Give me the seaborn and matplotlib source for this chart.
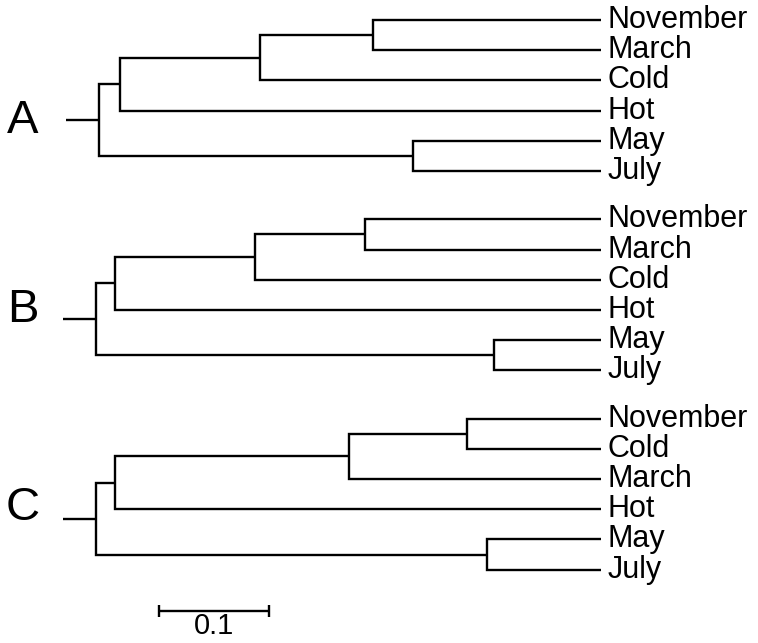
import numpy as np
import pandas as pd
import matplotlib
matplotlib.use('Agg')
import matplotlib.pyplot as plt
import seaborn as sns

sns.set_style("white")
plt.rcParams['font.family'] = ['Liberation Sans', 'DejaVu Sans']
plt.rcParams['text.color'] = 'black'

# --- data ---
panel_names = ['A', 'B', 'C']
leaves_A = ['November', 'March', 'Cold', 'Hot', 'May', 'July']
leaves_B = ['November', 'March', 'Cold', 'Hot', 'May', 'July']
leaves_C = ['November', 'Cold', 'March', 'Hot', 'May', 'July']
# merge heights (distance from tips):
# first pair, + 3rd leaf, + 4th leaf, last pair, root
heights_A = [0.207, 0.310, 0.437, 0.171, 0.456]
heights_B = [0.215, 0.315, 0.442, 0.097, 0.459]
heights_C = [0.122, 0.229, 0.442, 0.104, 0.459]
scale_len = 0.1

panels = list(zip(panel_names, [leaves_A, leaves_B, leaves_C],
                  [heights_A, heights_B, heights_C]))

ROW_GAP = 6.6      # rows between the first leaf of each panel
STUB = 0.03        # root stub length
LETTER_DY = [0.43, 0.1, 0.03]   # baseline nudge of panel letters


def make_tree(leaves, h, offset):
    lf = [(0.0, offset + i, name) for i, name in enumerate(leaves)]
    n1 = (h[0], [lf[0], lf[1]])
    n2 = (h[1], [n1, lf[2]])
    n3 = (h[2], [n2, lf[3]])
    n4 = (h[3], [lf[4], lf[5]])
    return (h[4], [n3, n4])


segs = []


def layout(node):
    """return (x, y) of node, appending elbow segments for children"""
    if len(node) == 3:
        return -node[0], node[1]
    h, kids = node
    pos = [layout(k) for k in kids]
    y = np.mean([p[1] for p in pos])
    for cx, cy in pos:
        sid = len(segs)
        segs.extend([(sid, -h, y), (sid, -h, cy), (sid, cx, cy)])
    return -h, y


fig = plt.figure(figsize=(7.58, 6.43), dpi=100)
ax = fig.add_axes([0, 0, 1, 1])

labels = []
roots = []
for p, (name, leaves, hts) in enumerate(panels):
    off = p * ROW_GAP
    rx, ry = layout(make_tree(leaves, hts, off))
    sid = len(segs)
    segs.extend([(sid, rx - STUB, ry), (sid, rx, ry)])
    roots.append((name, ry + LETTER_DY[p]))
    for i, lab in enumerate(leaves):
        labels.append((lab, off + i))

# scale bar
bar_y = 19.57
bar_x0 = -0.4018
tick = 0.2
sid = len(segs)
segs.extend([(sid, bar_x0, bar_y - tick), (sid, bar_x0, bar_y + tick)])
segs.extend([(sid + 1, bar_x0, bar_y), (sid + 1, bar_x0 + scale_len, bar_y)])
segs.extend([(sid + 2, bar_x0 + scale_len, bar_y - tick),
             (sid + 2, bar_x0 + scale_len, bar_y + tick)])

df = pd.DataFrame(segs, columns=['seg', 'x', 'y'])
sns.lineplot(data=df, x='x', y='y', units='seg', estimator=None, sort=False,
             color='black', linewidth=1.7, ax=ax, legend=False)
for line in ax.lines:
    line.set_solid_joinstyle('miter')
    line.set_solid_capstyle('butt')

for lab, y in labels:
    ax.text(0.0055, y, lab, fontsize=22, ha='left', va='center')

for name, y in roots:
    ax.text(-0.5255, y, name, fontsize=34, ha='center', va='baseline')

ax.text(bar_x0 + scale_len / 2, 20.33, f'{scale_len:g}', fontsize=21,
        ha='center', va='baseline')

ax.set_xlim(-0.5464, 0.1427)
ax.set_ylim(20.63, -0.662)
ax.axis('off')

plt.savefig('out.png', dpi=100)
plt.close()
